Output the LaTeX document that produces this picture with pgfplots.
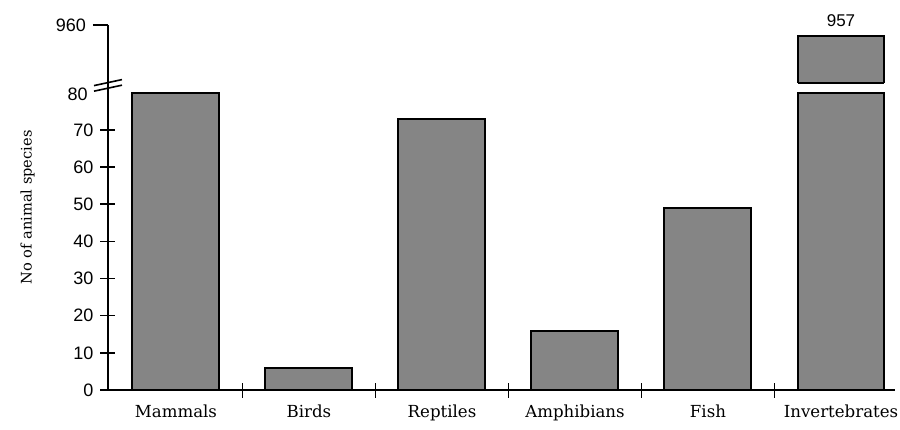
\documentclass[border=0pt]{standalone}
\usepackage{fontspec}
\setmainfont{DejaVu Serif}
\setsansfont{Liberation Sans}
\usepackage{pgfplots}
\pgfplotsset{compat=1.18}

\begin{document}
\begin{tikzpicture}
\begin{axis}[
    scale only axis,
    width=393.5pt, height=182.5pt,
    xmin=-0.511, xmax=5.406,
    ymin=0, ymax=960,
    % broken axis: values above 500 are moved down next to 80
    y coord trafo/.code={\pgfmathparse{#1>500 ? #1-861.8 : #1}},
    y coord inv trafo/.code={\pgfmathparse{#1>90 ? #1+861.8 : #1}},
    axis lines*=left,
    axis line style={line width=0.8pt},
    every tick/.style={black, line width=0.8pt},
    tick align=center,
    major tick length=7.5pt,
    ytick={0,10,...,70},
    extra y ticks={960},
    extra y tick style={tick align=outside},
    xtick={0.5,1.5,...,4.5},
    xticklabels={},
    extra x ticks={0,1,2,3,4,5},
    extra x tick labels={Mammals,Birds,Reptiles,Amphibians,Fish,Invertebrates},
    extra x tick style={major tick length=0pt,
        tick label style={font=\fontsize{8.3}{10}\selectfont, yshift=-4pt}},
    yticklabel style={font=\sffamily\fontsize{9}{10}\selectfont},
    /pgf/number format/assume math mode=true,
    ylabel={No of animal species},
    ylabel style={font=\fontsize{7.3}{9}\selectfont},
    bar width=0.654,
    bar shift=0pt,
    clip=false,
]
\addplot[ybar, fill=black!48, draw=black, line width=1pt]
    coordinates {(0,80) (1,6) (2,73) (3,16) (4,49)};
\addplot[ybar, fill=black!48, draw=black, line width=1pt,
    point meta=explicit symbolic, nodes near coords,
    every node near coord/.style={font=\sffamily\fontsize{8.5}{10}\selectfont, yshift=1pt}]
    coordinates {(5,957) [957]};
% gap in the broken Invertebrates bar
\fill[white] (axis cs:4.655,80.2) rectangle (axis cs:5.345,82.5);
\draw[line width=1pt] (axis cs:4.673,80) -- (axis cs:5.327,80);
\draw[line width=1pt] (axis cs:4.673,82.7) -- (axis cs:5.327,82.7);
% axis break marks and the 80 label
\draw[line width=0.8pt] ([xshift=-7pt,yshift=-1.5pt]axis cs:-0.511,81.2) -- ([xshift=7pt,yshift=1.5pt]axis cs:-0.511,81.2);
\draw[line width=0.8pt] ([xshift=-7pt,yshift=-1.5pt]axis cs:-0.511,82.7) -- ([xshift=7pt,yshift=1.5pt]axis cs:-0.511,82.7);
\node[anchor=east, font=\sffamily\fontsize{9}{10}\selectfont, inner sep=0pt]
    at ([xshift=-10pt]axis cs:-0.511,79.5) {80};
\end{axis}
\pgfresetboundingbox
\useasboundingbox (-54pt,-19.5pt) rectangle (396pt,195pt);
\end{tikzpicture}
\end{document}
